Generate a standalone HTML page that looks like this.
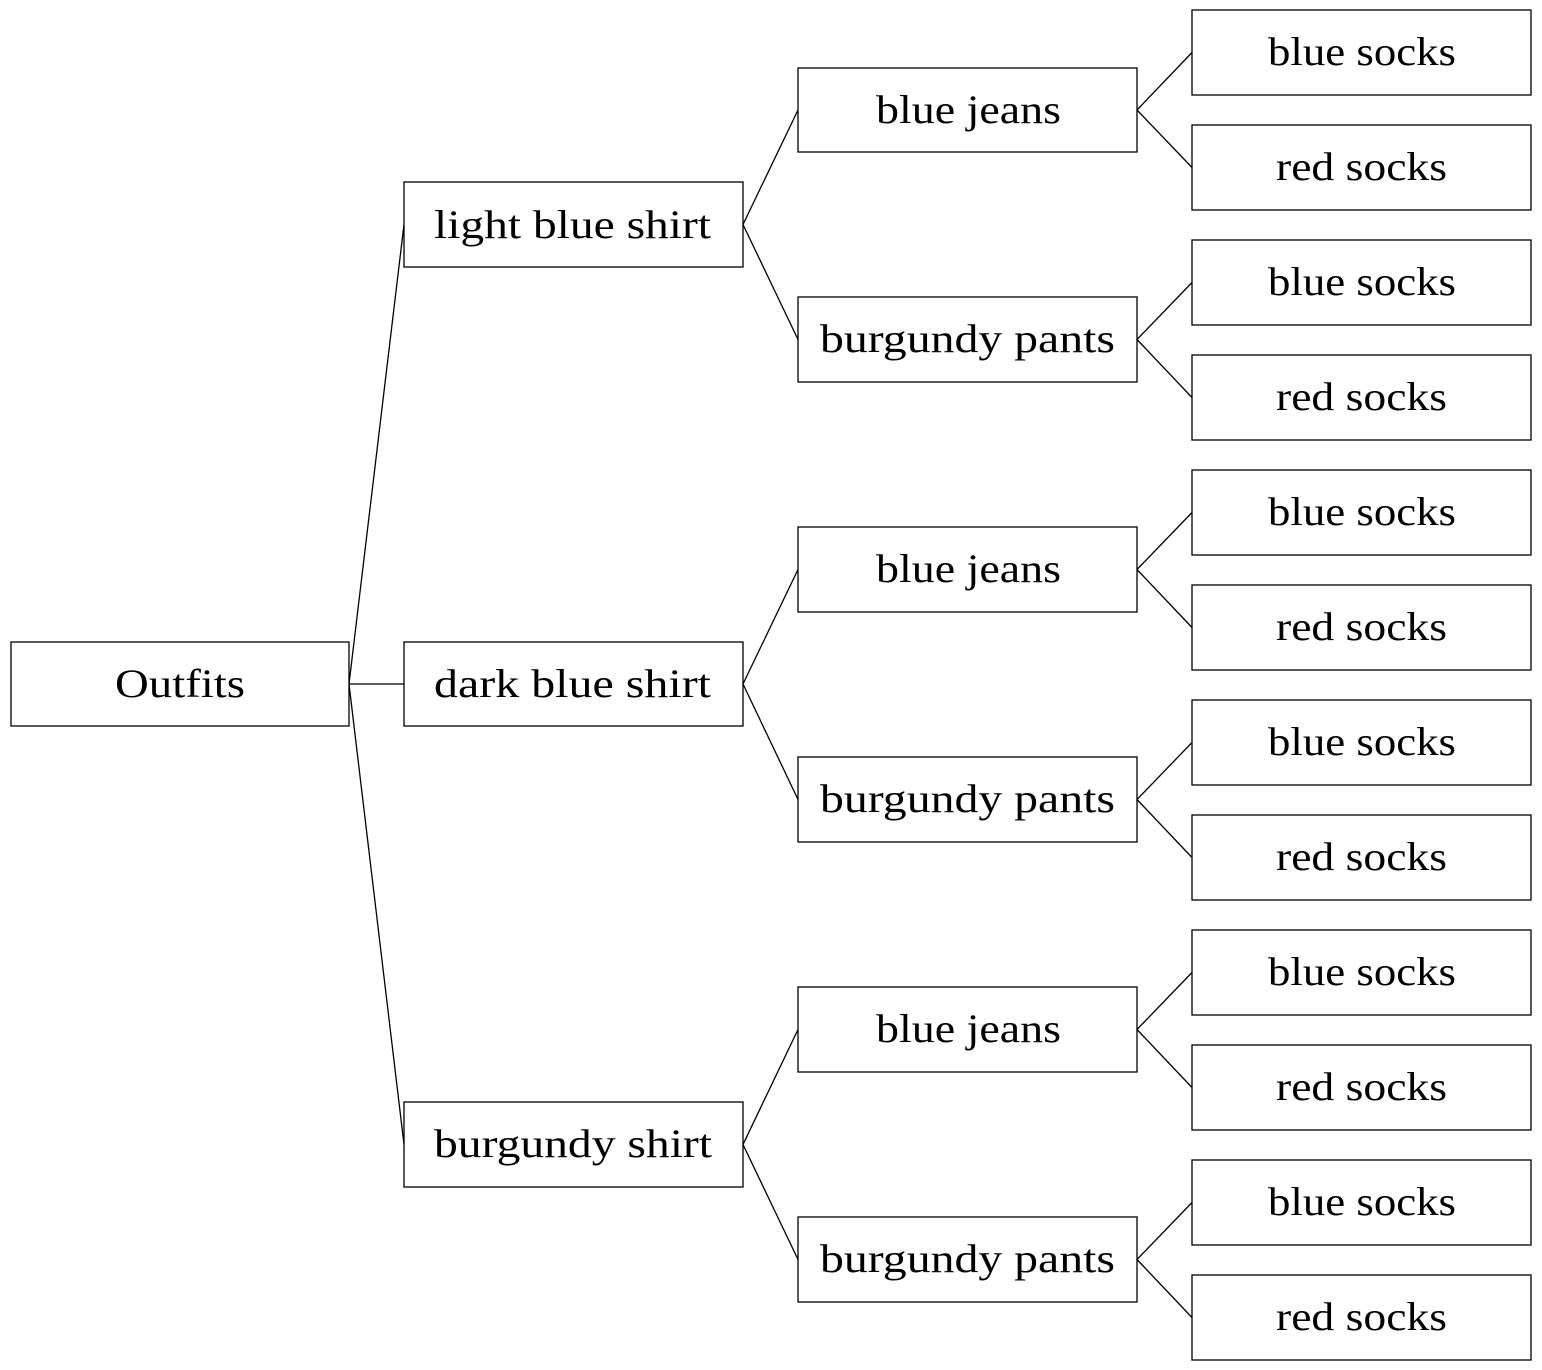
<!DOCTYPE html>
<html><head><meta charset="utf-8"><style>
html,body{margin:0;padding:0;background:#fff;}
svg{display:block;}
text{font-family:"Liberation Serif",serif;font-size:40px;fill:#000;}
rect{fill:#fff;stroke:#000;stroke-width:1.3;}
line{stroke:#000;stroke-width:1.3;}
</style></head><body>
<svg width="1542" height="1370" viewBox="0 0 1542 1370" xmlns="http://www.w3.org/2000/svg">
<!-- connectors -->
<line x1="349" y1="684" x2="404" y2="224.5"/>
<line x1="349" y1="684" x2="404" y2="684"/>
<line x1="349" y1="684" x2="404" y2="1144.5"/>
<line x1="743" y1="224.5" x2="798" y2="110"/>
<line x1="743" y1="224.5" x2="798" y2="339.5"/>
<line x1="743" y1="684" x2="798" y2="569.5"/>
<line x1="743" y1="684" x2="798" y2="799.5"/>
<line x1="743" y1="1144.5" x2="798" y2="1029.5"/>
<line x1="743" y1="1144.5" x2="798" y2="1259.5"/>
<line x1="1137" y1="110" x2="1192" y2="52.5"/>
<line x1="1137" y1="110" x2="1192" y2="167.5"/>
<line x1="1137" y1="339.5" x2="1192" y2="282.5"/>
<line x1="1137" y1="339.5" x2="1192" y2="397.5"/>
<line x1="1137" y1="569.5" x2="1192" y2="512.5"/>
<line x1="1137" y1="569.5" x2="1192" y2="627.5"/>
<line x1="1137" y1="799.5" x2="1192" y2="742.5"/>
<line x1="1137" y1="799.5" x2="1192" y2="857.5"/>
<line x1="1137" y1="1029.5" x2="1192" y2="972.5"/>
<line x1="1137" y1="1029.5" x2="1192" y2="1087.5"/>
<line x1="1137" y1="1259.5" x2="1192" y2="1202.5"/>
<line x1="1137" y1="1259.5" x2="1192" y2="1317.5"/>
<!-- root -->
<rect x="11" y="642" width="338" height="84"/>
<text x="115" y="697" textLength="130" lengthAdjust="spacingAndGlyphs">Outfits</text>
<!-- shirts -->
<rect x="404" y="182" width="339" height="85"/>
<text x="434" y="238" textLength="277" lengthAdjust="spacingAndGlyphs">light blue shirt</text>
<rect x="404" y="642" width="339" height="84"/>
<text x="434" y="697" textLength="277" lengthAdjust="spacingAndGlyphs">dark blue shirt</text>
<rect x="404" y="1102" width="339" height="85"/>
<text x="434" y="1157" textLength="278" lengthAdjust="spacingAndGlyphs">burgundy shirt</text>
<!-- pants -->
<rect x="798" y="68" width="339" height="84"/>
<text x="876" y="123" textLength="185" lengthAdjust="spacingAndGlyphs">blue jeans</text>
<rect x="798" y="297" width="339" height="85"/>
<text x="820" y="352" textLength="295" lengthAdjust="spacingAndGlyphs">burgundy pants</text>
<rect x="798" y="527" width="339" height="85"/>
<text x="876" y="582" textLength="185" lengthAdjust="spacingAndGlyphs">blue jeans</text>
<rect x="798" y="757" width="339" height="85"/>
<text x="820" y="812" textLength="295" lengthAdjust="spacingAndGlyphs">burgundy pants</text>
<rect x="798" y="987" width="339" height="85"/>
<text x="876" y="1042" textLength="185" lengthAdjust="spacingAndGlyphs">blue jeans</text>
<rect x="798" y="1217" width="339" height="85"/>
<text x="820" y="1272" textLength="295" lengthAdjust="spacingAndGlyphs">burgundy pants</text>
<!-- socks -->
<rect x="1192" y="10" width="339" height="85"/>
<text x="1268" y="65" textLength="188" lengthAdjust="spacingAndGlyphs">blue socks</text>
<rect x="1192" y="125" width="339" height="85"/>
<text x="1276" y="180" textLength="171" lengthAdjust="spacingAndGlyphs">red socks</text>
<rect x="1192" y="240" width="339" height="85"/>
<text x="1268" y="295" textLength="188" lengthAdjust="spacingAndGlyphs">blue socks</text>
<rect x="1192" y="355" width="339" height="85"/>
<text x="1276" y="410" textLength="171" lengthAdjust="spacingAndGlyphs">red socks</text>
<rect x="1192" y="470" width="339" height="85"/>
<text x="1268" y="525" textLength="188" lengthAdjust="spacingAndGlyphs">blue socks</text>
<rect x="1192" y="585" width="339" height="85"/>
<text x="1276" y="640" textLength="171" lengthAdjust="spacingAndGlyphs">red socks</text>
<rect x="1192" y="700" width="339" height="85"/>
<text x="1268" y="755" textLength="188" lengthAdjust="spacingAndGlyphs">blue socks</text>
<rect x="1192" y="815" width="339" height="85"/>
<text x="1276" y="870" textLength="171" lengthAdjust="spacingAndGlyphs">red socks</text>
<rect x="1192" y="930" width="339" height="85"/>
<text x="1268" y="985" textLength="188" lengthAdjust="spacingAndGlyphs">blue socks</text>
<rect x="1192" y="1045" width="339" height="85"/>
<text x="1276" y="1100" textLength="171" lengthAdjust="spacingAndGlyphs">red socks</text>
<rect x="1192" y="1160" width="339" height="85"/>
<text x="1268" y="1215" textLength="188" lengthAdjust="spacingAndGlyphs">blue socks</text>
<rect x="1192" y="1275" width="339" height="85"/>
<text x="1276" y="1330" textLength="171" lengthAdjust="spacingAndGlyphs">red socks</text>
</svg>
</body></html>
